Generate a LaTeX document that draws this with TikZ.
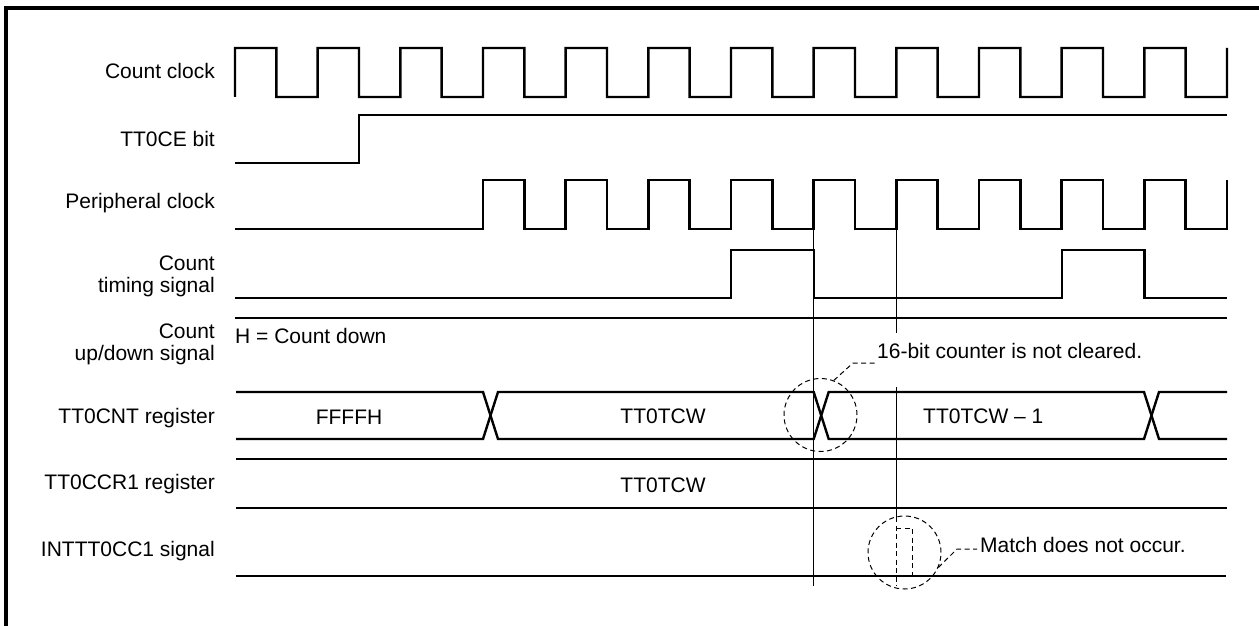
\documentclass[tikz,border=0pt]{standalone}
\usepackage{fontspec}
\setmainfont{Liberation Sans}
\begin{document}
\begin{tikzpicture}[x=1pt,y=-1pt,
  sig/.style={line width=2.4pt, line join=miter},
  vline/.style={line width=1pt},
  dsh/.style={line width=1pt, dash pattern=on 5pt off 3.5pt},
  lbl/.style={anchor=base east, inner sep=0pt, align=right},
  txt/.style={anchor=base, inner sep=0pt},
  txtw/.style={anchor=base west, inner sep=0pt},
  ring/.style={circle, draw, dsh, minimum size=73pt, inner sep=0pt},
  font=\fontsize{21}{21.5}\selectfont]
\useasboundingbox (0,0) rectangle (1259,626);
% frame
\draw[line width=3.5pt, line join=miter] (6,626) -- (6,8) -- (1259,8);

% labels
\node[lbl] (lcc)  at (215,78.5) {Count clock};
\node[lbl] (lce)  at (215,146) {TT0CE bit};
\node[lbl] (lpc)  at (215,208) {Peripheral clock};
\node[lbl] (lct)  at (215,292) {Count\\timing signal};
\node[lbl] (lud)  at (215,360) {Count\\up/down signal};
\node[lbl] (lcnt) at (215,423) {TT0CNT register};
\node[lbl] (lccr) at (215,489) {TT0CCR1 register};
\node[lbl] (lint) at (215,556.5) {INTTT0CC1 signal};

% count clock
\draw[sig] (235,97) \foreach \k in {0,...,11}{ -- ({235+\k*82.6667},48) -- ({276.3333+\k*82.6667},48) -- ({276.3333+\k*82.6667},97) -- ({317.6667+\k*82.6667},97)} -- (1227,48);
% TT0CE bit
\draw[sig] (235,163) -- (359,163) -- (359,115) -- (1227,115);
% peripheral clock
\draw[sig] (235,229) \foreach \k in {3,...,11}{ -- ({235+\k*82.6667},229) -- ({235+\k*82.6667},180) -- ({276.3333+\k*82.6667},180) -- ({276.3333+\k*82.6667},229)} -- (1227,229) -- (1227,180);
% count timing signal
\draw[sig] (235,298) -- (731,298) -- (731,250) -- (813.7,250) -- (813.7,298) -- (1061.7,298) -- (1061.7,250) -- (1144.3,250) -- (1144.3,298) -- (1227,298);
% up/down
\draw[sig] (235,318) -- (1227,318);
\node[txtw] (hcd) at (235,343) {H = Count down};
% TT0CNT bus
\draw[sig] (236,392) -- (483,392) -- (498,439) -- (813.7,439) -- (828.7,392) -- (1144,392) -- (1159,439) -- (1227,439);
\draw[sig] (236,439) -- (483,439) -- (498,392) -- (813.7,392) -- (828.7,439) -- (1144,439) -- (1159,392) -- (1227,392);
\node[txt] (vf) at (349,424) {FFFFH};
\node[txt] (vt) at (663,423.5) {TT0TCW};
\node[txtw] (vt1) at (923,423.5) {TT0TCW \textendash{} 1};
% TT0CCR1
\draw[sig] (236,459) -- (1227,459);
\draw[sig] (236,508) -- (1227,508);
\node[txt] (vc) at (663,492.5) {TT0TCW};
% INTTT0CC1
\draw[sig] (236,576) -- (1226,576);

% reference lines
\draw[vline] (813.7,229) -- (813.7,586);
\draw[vline] (896.3,229) -- (896.3,333);
\draw[vline] (896.3,387) -- (896.3,517);
\draw[dsh] (896.3,517) -- (896.3,586);
\draw[dsh] (896.3,528) -- (912,528) -- (912,576);

% annotations
\node[ring] (c1) at (820.5,415) {};
\node[txtw] (n1) at (877,358) {16-bit counter is not cleared.};
\coordinate (e1) at (875,363);
\draw[dsh] (c1.69) -- (853,363) -- (e1);

\node[ring] (c2) at (904.5,552.5) {};
\node[txtw] (n2) at (980,552) {Match does not occur.};
\coordinate (e2) at (977,549);
\draw[dsh] (c2.-24) -- (957,549) -- (e2);
\end{tikzpicture}
\end{document}
